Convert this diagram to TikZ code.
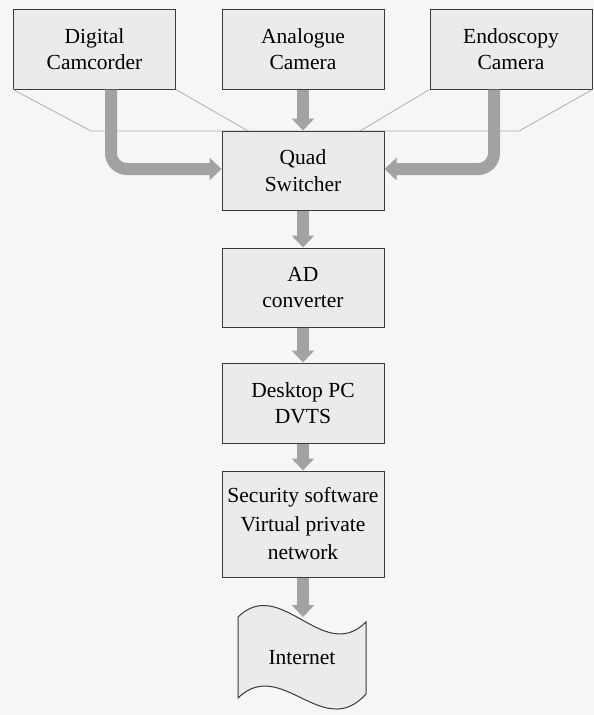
\documentclass[tikz,border=0pt]{standalone}
\usepackage{fontspec}
\setmainfont{Liberation Serif}
\usetikzlibrary{arrows.meta}
\definecolor{bg}{HTML}{F6F6F6}
\definecolor{boxfill}{HTML}{EBEBEB}
\definecolor{boxline}{HTML}{3A3A3A}
\definecolor{flow}{HTML}{A2A2A2}
\definecolor{thin}{HTML}{AFAFAF}
\tikzset{
  blk/.style={draw=boxline, line width=1pt, fill=boxfill, minimum width=162pt,
    minimum height=80pt, inner sep=0pt, align=center,
    font=\fontsize{21.5}{26.5}\selectfont},
  flowarrow/.style={draw=flow, line width=12pt,
    -{Triangle[width=22pt,length=12pt]}, shorten >=0pt},
  thinline/.style={draw=thin, line width=0.8pt},
}
\begin{document}
\begin{tikzpicture}[x=1pt,y=-1pt]
\fill[bg] (0,0) rectangle (594,715);
\useasboundingbox (0,0) rectangle (594,715);
% thin perspective lines
\coordinate (sl) at (91,131);
\coordinate (sr) at (519,131);
\coordinate (il) at (248,131);
\coordinate (ir) at (360,131);
\node[blk] (dig) at (94.5,49) {Digital\\Camcorder};
\node[blk] (ana) at (303,49) {Analogue\\Camera};
\node[blk] (endo) at (511,49) {Endoscopy\\Camera};
\draw[thinline] (dig.south west) -- (sl) -- (sr) -- (endo.south east);
\draw[thinline] (dig.south east) -- (il);
\draw[thinline] (endo.south west) -- (ir);
\node[blk, minimum height=79pt] (quad) at (303,170.5) {Quad\\Switcher};
\node[blk, minimum height=79pt] (ad) at (303,287.5) {AD\\converter};
\node[blk] (pc) at (303,403) {Desktop PC\\DVTS};
\node[blk, minimum height=106pt, font=\fontsize{21.5}{28.5}\selectfont] (sec) at (303,524) {Security software\\Virtual private\\network};
% Internet (tape shape)
\draw[boxline, line width=1pt, fill=boxfill]
  (238,617) .. controls (281,575) and (323,665) .. (366,622)
  -- (366,694) .. controls (323,742) and (281,656) .. (238,698) -- cycle;
\node[inner sep=0pt, font=\fontsize{21.5}{26.5}\selectfont] (net) at (302,658) {Internet};
\coordinate (nettop) at (303,617);
% flow arrows
\draw[flowarrow, rounded corners=16pt] ([xshift=16.5pt]dig.south) |- ([yshift=1.5pt]quad.west);
\draw[flowarrow, rounded corners=16pt] ([xshift=-17pt]endo.south) |- ([yshift=1.5pt]quad.east);
\draw[flowarrow] (ana.south) -- (quad.north);
\draw[flowarrow] (quad.south) -- (ad.north);
\draw[flowarrow] (ad.south) -- (pc.north);
\draw[flowarrow] (pc.south) -- (sec.north);
\draw[flowarrow] (sec.south) -- (nettop);
\end{tikzpicture}
\end{document}
